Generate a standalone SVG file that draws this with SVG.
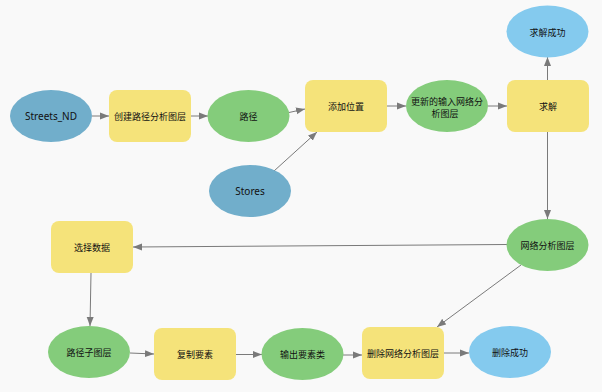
<svg xmlns="http://www.w3.org/2000/svg" width="602" height="392" viewBox="0 0 602 392">
<defs>
<marker id="arr" markerUnits="userSpaceOnUse" markerWidth="10" markerHeight="8" refX="9" refY="4" orient="auto">
<path d="M0,0.5 L9,4 L0,7.5 Z" fill="#7a7a7a"/>
</marker>
<style>
.in{fill:#71aecb}
.tool{fill:#f5e37a}
.out{fill:#84cc7b}
.ok{fill:#84caee}
text{font-family:"Noto Sans","Noto Sans CJK SC",sans-serif;font-size:9px;fill:#111;text-anchor:middle;dominant-baseline:central}
text.lat{font-size:10px}
.c line{stroke:#7a7a7a;stroke-width:1;marker-end:url(#arr)}
</style>
</defs>
<rect width="602" height="392" fill="#f9f9f9"/>
<g class="c">
<line x1="92" y1="116" x2="109" y2="116"/>
<line x1="191" y1="116" x2="208" y2="116"/>
<line x1="289" y1="112.5" x2="305" y2="109"/>
<line x1="274" y1="171" x2="317" y2="132"/>
<line x1="387" y1="106" x2="406" y2="106"/>
<line x1="488" y1="106" x2="507" y2="106"/>
<line x1="547.5" y1="80" x2="547.5" y2="57"/>
<line x1="547.5" y1="132" x2="547.5" y2="219"/>
<line x1="507" y1="244.5" x2="133" y2="247"/>
<line x1="91" y1="273" x2="90" y2="326"/>
<line x1="130" y1="353" x2="154" y2="354"/>
<line x1="236" y1="354.5" x2="262" y2="354.5"/>
<line x1="343" y1="355" x2="362" y2="355"/>
<line x1="521" y1="265" x2="437" y2="327"/>
<line x1="444" y1="353" x2="469" y2="353"/>
</g>
<g id="streets"><ellipse class="in" cx="51" cy="116" rx="41" ry="26"/><text class="lat" x="51" y="116">Streets_ND</text></g>
<g id="create"><rect class="tool" x="109" y="90" width="82" height="52" rx="8"/><text x="150" y="116">创建路径分析图层</text></g>
<g id="route"><ellipse class="out" cx="248.5" cy="116" rx="41" ry="26"/><text x="248.5" y="116">路径</text></g>
<g id="stores"><ellipse class="in" cx="250" cy="191" rx="41" ry="26"/><text class="lat" x="250" y="191">Stores</text></g>
<g id="addloc"><rect class="tool" x="305" y="80" width="82" height="52" rx="8"/><text x="346" y="106">添加位置</text></g>
<g id="updated"><ellipse class="out" cx="447" cy="106" rx="41" ry="26"/><text x="447" y="101">更新的输入网络分</text><text x="445" y="113">析图层</text></g>
<g id="solve"><rect class="tool" x="507" y="80" width="82" height="52" rx="8"/><text x="548" y="106">求解</text></g>
<g id="solveok"><ellipse class="ok" cx="547.5" cy="31.5" rx="41" ry="26"/><text x="547.5" y="32">求解成功</text></g>
<g id="nalayer"><ellipse class="out" cx="547.5" cy="245" rx="41" ry="26"/><text x="547.5" y="245">网络分析图层</text></g>
<g id="select"><rect class="tool" x="51" y="221" width="82" height="52" rx="8"/><text x="92" y="247">选择数据</text></g>
<g id="sublayer"><ellipse class="out" cx="89" cy="352" rx="41" ry="26"/><text x="89" y="352">路径子图层</text></g>
<g id="copy"><rect class="tool" x="154" y="328" width="82" height="52" rx="8"/><text x="195" y="354">复制要素</text></g>
<g id="outfc"><ellipse class="out" cx="302.5" cy="354" rx="41" ry="26"/><text x="302.5" y="354">输出要素类</text></g>
<g id="delete"><rect class="tool" x="362" y="327" width="82" height="52" rx="8"/><text x="403" y="353">删除网络分析图层</text></g>
<g id="delok"><ellipse class="ok" cx="510" cy="352" rx="41" ry="26"/><text x="510" y="352">删除成功</text></g>
</svg>
